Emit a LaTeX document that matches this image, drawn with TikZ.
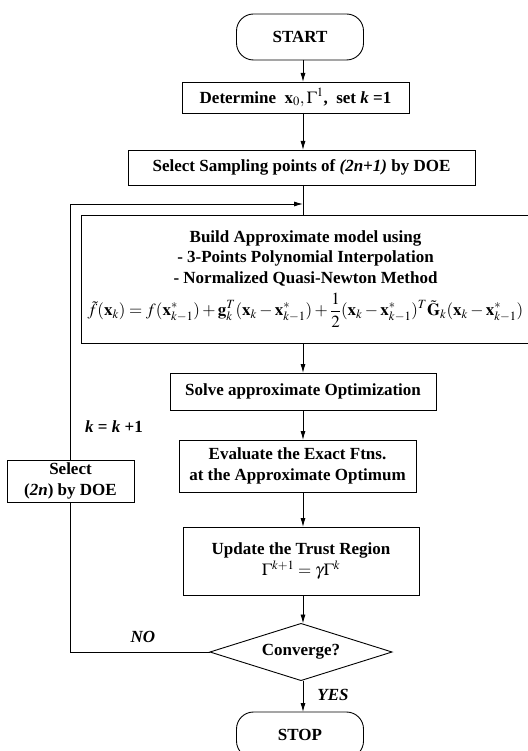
\documentclass[tikz,border=0pt]{standalone}
\usepackage{amsmath}
\usepackage{mathptmx}
\usepackage[no-math]{fontspec}
\setmainfont{Liberation Serif}
\usepackage{tikz}
\usetikzlibrary{arrows.meta,shapes.geometric}

\begin{document}
\begin{tikzpicture}[x=1pt,y=-1pt]

  %Styles for picture
  \tikzset
  {
  every node/.style={font=\fontsize{17}{20.5}\selectfont\bfseries, inner sep=0pt, outer sep=0pt},
  box/.style={draw, rectangle, line width=0.9pt, align=center},
  terminal/.style={draw, rectangle, rounded corners=17pt, line width=0.9pt, minimum width=127pt, minimum height=46pt},
  decision/.style={draw, diamond, line width=0.9pt, aspect=3.2, minimum width=182pt, minimum height=57pt},
  flow/.style={line width=0.9pt, -{Latex[length=9pt,width=5pt]}},
  loop/.style={line width=0.9pt},
  }

  \useasboundingbox (0,0) rectangle (527,751);

  % Nodes
  \node[terminal] (start) at (300,37) {START};
  \node[box, minimum width=227pt, minimum height=31pt] (det) at (295.5,97.5)
    {Determine\ \ $\mathbf{x}_0,\Gamma^1$,\ \ set \textit{k} =1};
  \node[box, minimum width=347pt, minimum height=35pt] (samp) at (301.5,167.5)
    {Select Sampling points of \textit{(2n+1)} by DOE};
  \node[box, minimum width=449pt, minimum height=128pt] (build) at (305.5,279)
    {Build Approximate model using\\
     - 3-Points Polynomial Interpolation\\
     - Normalized Quasi-Newton Method\\[6pt]
     \mdseries$\displaystyle \tilde f(\mathbf{x}_k)=f(\mathbf{x}^*_{k-1})+\mathbf{g}_k^T(\mathbf{x}_k-\mathbf{x}^*_{k-1})
     +\frac{1}{2}(\mathbf{x}_k-\mathbf{x}^*_{k-1})^T\tilde{\mathbf{G}}_k(\mathbf{x}_k-\mathbf{x}^*_{k-1})$};
  \node[box, minimum width=266pt, minimum height=37pt] (solve) at (303,391.5)
    {Solve approximate Optimization};
  \node[box, minimum width=237pt, minimum height=52pt] (eval) at (297.5,466)
    {Evaluate the Exact Ftns.\\ at the Approximate Optimum};
  \node[box, minimum width=236pt, minimum height=68pt] (upd) at (301,561)
    {Update the Trust Region\\ $\Gamma^{k+1}=\gamma\Gamma^k$};
  \node[decision] (conv) at (301,652) {Converge?};
  \node[terminal] (stop) at (300,735) {STOP};
  \node[box, minimum width=127pt, minimum height=42pt] (sel) at (70.5,481)
    {Select\\ (\textit{2n}) by DOE};

  % Labels
  \node (kinc) at (114,427) {\textit{k} = \textit{k} +1};
  \node (no) at (143,637) {\textit{NO}};
  \node (yes) at (333,695) {\textit{YES}};

  \coordinate (col) at (303,0);
  \coordinate (loopin) at (303,204);

  % Edges
  \draw[flow] (start.south -| col) -- (det.north -| col);
  \draw[flow] (det.south -| col) -- (samp.north -| col);
  \draw[loop] (samp.south -| col) -- (build.north -| col);
  \draw[flow] (build.south -| col) -- (solve.north -| col);
  \draw[flow] (solve.south -| col) -- (eval.north -| col);
  \draw[flow] (eval.south -| col) -- (upd.north -| col);
  \draw[flow] (upd.south -| col) -- (conv.north -| col);
  \draw[flow] (conv.south -| col) -- (stop.north -| col);
  \draw[loop] (conv.west) -- (conv.west -| sel) -- (sel.south); % back to DOE
  \draw[flow] (sel.north) |- (loopin);
\end{tikzpicture}
\end{document}
